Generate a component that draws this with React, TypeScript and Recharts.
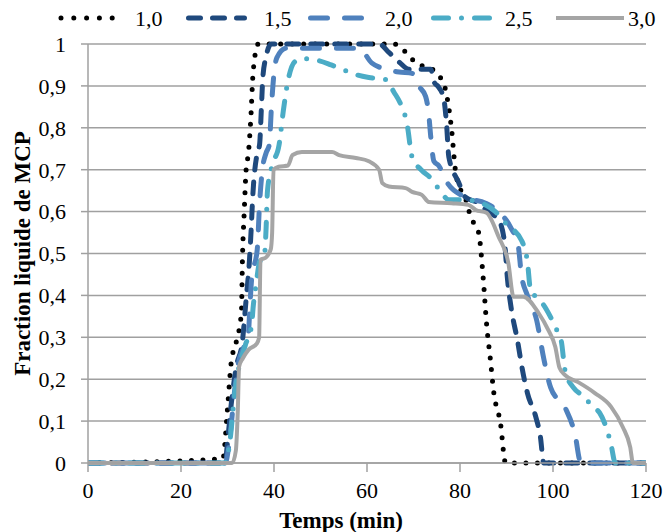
import React from 'react';
import { LineChart, Line, XAxis, YAxis, CartesianGrid } from 'recharts';

const FONT = '"Liberation Serif", "Times New Roman", serif';

const xTicks = [0, 20, 40, 60, 80, 100, 120];
const yTicks = [0, 0.1, 0.2, 0.3, 0.4, 0.5, 0.6, 0.7, 0.8, 0.9, 1];
const seriesNames = ['1,0', '1,5', '2,0', '2,5', '3,0'];

// [time (min), liquid fraction]
const s10 = [
  [0, 0], [29, 0.01], [30, 0.13], [30.8, 0.24], [31.9, 0.29], [33, 0.36], [33.2, 0.48], [33.6, 0.6],
  [34, 0.7], [34.5, 0.74], [35, 0.82], [35.5, 0.93], [36.6, 1], [65.8, 1], [68.4, 0.98], [70.5, 0.955],
  [74, 0.94], [75.5, 0.925], [77, 0.885], [78.2, 0.795], [79, 0.7], [80.2, 0.65], [81.2, 0.63],
  [82.3, 0.587], [84, 0.55], [85, 0.44], [85.7, 0.334], [86.6, 0.24], [87.2, 0.174], [88.7, 0.095],
  [89.8, 0], [120, 0],
];
const s15 = [
  [0, 0], [29.5, 0], [30, 0.05], [30.8, 0.14], [31.9, 0.23], [33.2, 0.29], [34, 0.39], [34.7, 0.48],
  [35.1, 0.56], [35.4, 0.63], [36.4, 0.74], [36.9, 0.76], [37.3, 0.85], [37.6, 0.92], [38.3, 0.97],
  [39.4, 1], [62.6, 1], [64.7, 0.98], [66.9, 0.957], [69, 0.94], [73.7, 0.94], [74.4, 0.91],
  [75.4, 0.897], [76.5, 0.87], [77.1, 0.81], [77.6, 0.73], [79.7, 0.67], [81.1, 0.635], [84, 0.62],
  [86, 0.6], [88.3, 0.58], [89.6, 0.525], [90.2, 0.44], [91, 0.37], [92.4, 0.29], [93.3, 0.23],
  [94.5, 0.167], [96.3, 0.11], [97.3, 0.062], [98, 0], [120, 0],
];
const s20 = [
  [0, 0], [29.5, 0], [30.5, 0.06], [31.5, 0.17], [32.2, 0.23], [33.6, 0.28], [34.5, 0.31], [34.8, 0.37],
  [35.2, 0.44], [36.4, 0.51], [36.9, 0.62], [37.5, 0.7], [38.3, 0.74], [39, 0.76], [39.4, 0.84],
  [40, 0.93], [40.6, 0.967], [42.6, 0.99], [58.3, 0.99], [61, 0.955], [63, 0.943], [66.9, 0.933],
  [69.7, 0.93], [71.1, 0.9], [72.6, 0.875], [73.3, 0.83], [73.7, 0.78], [74.4, 0.72], [75.4, 0.71],
  [77.2, 0.67], [81, 0.635], [85.5, 0.62], [88.3, 0.6], [91, 0.56], [92.5, 0.52], [93.2, 0.45],
  [94.5, 0.4], [96.5, 0.34], [98, 0.25], [99.5, 0.18], [102.7, 0.13], [104.7, 0.07], [106, 0], [120, 0],
];
const s25 = [
  [0, 0], [29.5, 0], [30.5, 0.05], [31.5, 0.16], [32.3, 0.22], [33.8, 0.28], [35.2, 0.33], [35.5, 0.37],
  [36.2, 0.43], [36.9, 0.48], [37.9, 0.49], [38.3, 0.56], [38.6, 0.65], [39.6, 0.71], [41.1, 0.76],
  [42, 0.84], [42.8, 0.9], [44.4, 0.957], [45.9, 0.965], [49.7, 0.96], [52.3, 0.95], [54.6, 0.94],
  [57.9, 0.926], [60.4, 0.92], [64, 0.915], [65.8, 0.885], [67.3, 0.855], [68.6, 0.81], [69.7, 0.73],
  [71.6, 0.7], [73.7, 0.68], [75.9, 0.647], [77.6, 0.628], [81, 0.628], [85.5, 0.616], [87.6, 0.6],
  [90, 0.57], [93.3, 0.53], [94.5, 0.48], [95.2, 0.41], [96, 0.4], [97.8, 0.38], [99.4, 0.35],
  [100.7, 0.32], [101.8, 0.29], [102.6, 0.22], [104.4, 0.18], [106.5, 0.16], [108.6, 0.134],
  [110, 0.12], [111.4, 0.086], [112.5, 0.043], [113.4, 0], [120, 0],
];
const s30 = [
  [0, 0], [31, 0], [31.8, 0.03], [32.2, 0.12], [32.5, 0.23], [33.3, 0.25], [34.5, 0.27], [36.3, 0.285],
  [36.8, 0.3], [37.1, 0.485], [38.2, 0.49], [39.3, 0.51], [39.6, 0.55], [39.9, 0.7], [41, 0.707],
  [43, 0.71], [44, 0.735], [46, 0.742], [49.7, 0.742], [52.5, 0.742], [54, 0.735], [57.6, 0.728],
  [60.4, 0.72], [62.6, 0.7], [63.3, 0.668], [64.7, 0.66], [68.3, 0.656], [69.7, 0.647], [71.8, 0.64],
  [73.3, 0.623], [78.2, 0.62], [81.8, 0.616], [83.4, 0.604], [85.7, 0.597], [88.3, 0.54], [90.4, 0.477],
  [91.5, 0.397], [93.6, 0.397], [96.9, 0.358], [99, 0.317], [100.5, 0.277], [101.4, 0.227],
  [102.6, 0.21], [105.4, 0.193], [109, 0.167], [112.5, 0.134], [115, 0.086], [116.6, 0.038],
  [117.2, 0], [120, 0],
];

const allSeries = [s10, s15, s20, s25, s30];

const styles = [
  { color: '#000000', width: 5, dash: '0 11.5' },
  { color: '#1F497D', width: 5, dash: '12 12' },
  { color: '#4F81BD', width: 5, dash: '17 17' },
  { color: '#4BACC6', width: 5, dash: '15 13 0 13' },
  { color: '#A5A5A5', width: 4, dash: undefined as string | undefined },
];

const legendPos = [
  { x1: 61, x2: 125, tx: 135 },
  { x1: 188.5, x2: 244.5, tx: 264 },
  { x1: 310.5, x2: 368, tx: 385 },
  { x1: 433.5, x2: 499, tx: 505 },
  { x1: 556, x2: 624, tx: 628 },
];

const toData = (pts: number[][]) => pts.map(([t, v]) => ({ t, v }));

const fmtY = (v: number) => {
  if (v === 0) return '0';
  if (v === 1) return '1';
  return v.toFixed(1).replace('.', ',');
};

const GRID = '#a0a0a0';

export default function App() {
  return (
    <div style={{ position: 'absolute', left: 0, top: 0, width: 663, height: 532, background: '#fff' }}>
      <svg width={663} height={40} style={{ position: 'absolute', left: 0, top: 0 }}>
        {seriesNames.map((name, i) => (
          <g key={name}>
            <line
              x1={legendPos[i].x1}
              x2={legendPos[i].x2}
              y1={18}
              y2={18}
              stroke={styles[i].color}
              strokeWidth={styles[i].width}
              strokeDasharray={i === 0 ? '0 12.8' : styles[i].dash}
              strokeLinecap={i === 4 ? 'butt' : 'round'}
            />
            <text x={legendPos[i].tx} y={26} fontFamily={FONT} fontSize={22} fill="#000">
              {name}
            </text>
          </g>
        ))}
      </svg>
      <LineChart width={663} height={532} margin={{ top: 44, right: 17, bottom: 0, left: 0 }}>
        <CartesianGrid vertical={false} stroke={GRID} strokeWidth={1.5} />
        <XAxis
          type="number"
          dataKey="t"
          domain={[0, 120]}
          ticks={xTicks}
          allowDataOverflow
          height={69}
          tickSize={9}
          tickMargin={10}
          axisLine={{ stroke: GRID, strokeWidth: 1.5 }}
          tickLine={{ stroke: GRID, strokeWidth: 1.5 }}
          tick={{ fill: '#000', fontSize: 22, fontFamily: FONT }}
          label={{
            value: 'Temps (min)',
            position: 'insideBottom',
            offset: 4,
            dx: -26,
            style: { fill: '#000', fontSize: 23, fontWeight: 'bold', fontFamily: FONT },
          }}
        />
        <YAxis
          type="number"
          domain={[0, 1]}
          ticks={yTicks}
          interval={0}
          width={88}
          tickSize={7}
          tickMargin={15}
          tickFormatter={fmtY}
          axisLine={{ stroke: GRID, strokeWidth: 1.5 }}
          tickLine={{ stroke: GRID, strokeWidth: 1.5 }}
          tick={{ fill: '#000', fontSize: 22, fontFamily: FONT }}
          label={{
            value: 'Fraction liquide de MCP',
            angle: -90,
            position: 'center',
            dx: -22,
            style: { fill: '#000', fontSize: 23, fontWeight: 'bold', fontFamily: FONT, textAnchor: 'middle' },
          }}
        />
        {allSeries.map((s, i) => (
          <Line
            key={seriesNames[i]}
            data={toData(s)}
            dataKey="v"
            name={seriesNames[i]}
            type="monotone"
            dot={false}
            activeDot={false}
            stroke={styles[i].color}
            strokeWidth={styles[i].width}
            strokeDasharray={styles[i].dash}
            strokeLinecap={i === 4 ? 'butt' : 'round'}
            strokeLinejoin="round"
            isAnimationActive={false}
          />
        ))}
      </LineChart>
    </div>
  );
}
